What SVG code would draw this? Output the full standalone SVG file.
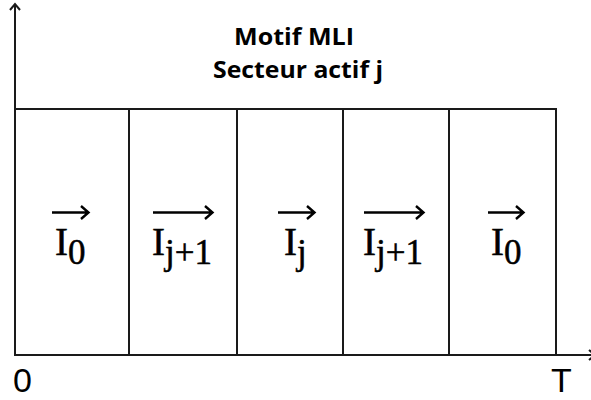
<svg xmlns="http://www.w3.org/2000/svg" width="591" height="400" viewBox="0 0 591 400">
<style>
.ln{stroke:#1a1a1a;stroke-width:2;fill:none}
.cell{fill:#fff;stroke:#1a1a1a;stroke-width:2}
.vec{stroke:#000;stroke-width:2.4;fill:none;stroke-linecap:butt}
.m{font-family:"Liberation Serif","Times New Roman",serif;font-size:39px;fill:#000;stroke:#000;stroke-width:0.5}
.s{font-size:35px}
.ttl{font-family:"Open Sans","Liberation Sans",sans-serif;font-weight:bold;font-size:24px;fill:#000;text-anchor:middle}
.ax{font-family:"Liberation Sans",Arial,sans-serif;font-size:34px;fill:#000}
</style>
<rect width="591" height="400" fill="#fff"/>
<g id="title">
<text class="ttl" x="294" y="45" textLength="120" lengthAdjust="spacingAndGlyphs">Motif MLI</text>
<text class="ttl" x="298" y="78" textLength="170" lengthAdjust="spacingAndGlyphs">Secteur actif j</text>
</g>
<g id="cell1">
<rect class="cell" x="15" y="109" width="114" height="246"/>
<path class="vec" d="M52 212.5H88M81 206L88.5 212.5L81 219"/>
<text class="m" x="55" y="255">I<tspan class="s" dy="9">0</tspan></text>
</g>
<g id="cell2">
<rect class="cell" x="129" y="109" width="108" height="246"/>
<path class="vec" d="M153 212.5H212M205 206L212.5 212.5L205 219"/>
<text class="m" x="152" y="255">I<tspan class="s" dy="9">j+1</tspan></text>
</g>
<g id="cell3">
<rect class="cell" x="237" y="109" width="106" height="246"/>
<path class="vec" d="M278 212.5H314M307 206L314.5 212.5L307 219"/>
<text class="m" x="284" y="255">I<tspan class="s" dy="9">j</tspan></text>
</g>
<g id="cell4">
<rect class="cell" x="343" y="109" width="106" height="246"/>
<path class="vec" d="M364 212.5H423M416 206L423.5 212.5L416 219"/>
<text class="m" x="363" y="255">I<tspan class="s" dy="9">j+1</tspan></text>
</g>
<g id="cell5">
<rect class="cell" x="449" y="109" width="107" height="246"/>
<path class="vec" d="M488 212.5H523M516 206L523.5 212.5L516 219"/>
<text class="m" x="491" y="255">I<tspan class="s" dy="9">0</tspan></text>
</g>
<g id="connectors">
<path class="ln" d="M15 356V4M10 10L15 4L20 10"/>
<path class="ln" d="M15 355H595M589 350L595 355L589 360"/>
</g>
<g id="axis-labels">
<text class="ax" x="13" y="392">0</text>
<text class="ax" x="551" y="392">T</text>
</g>
</svg>
